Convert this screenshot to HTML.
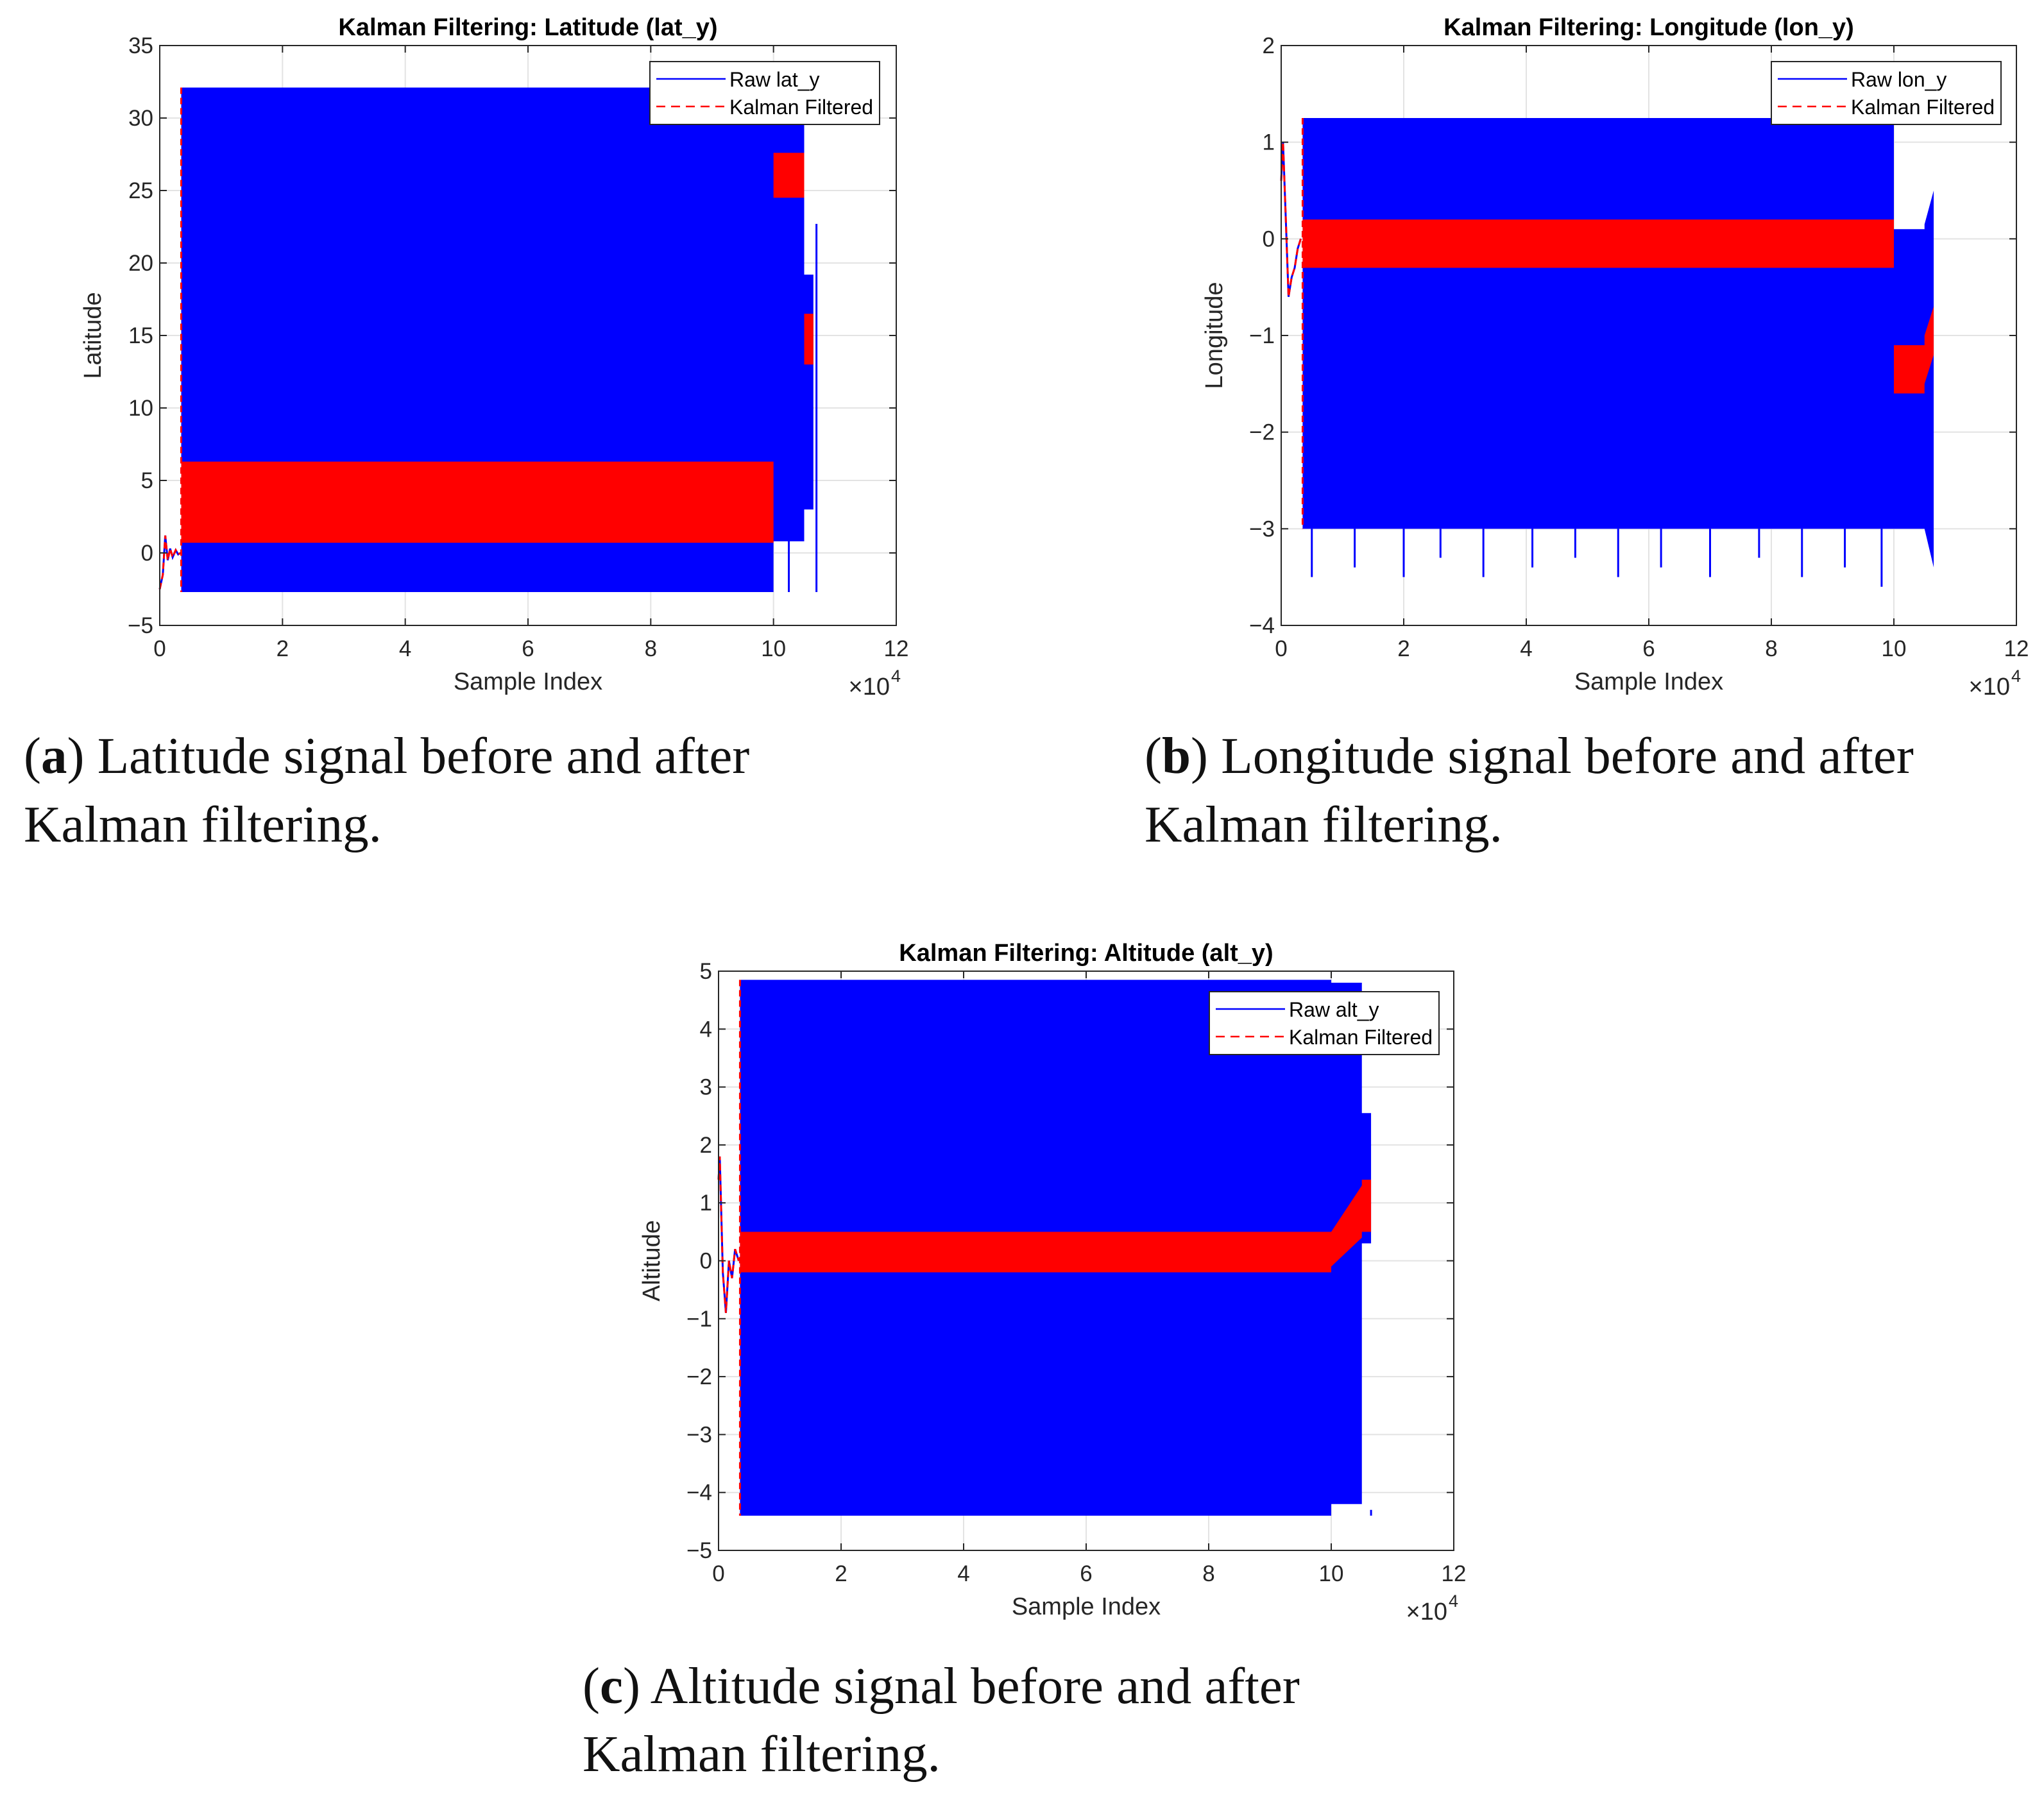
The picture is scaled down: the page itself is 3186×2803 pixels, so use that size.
<!DOCTYPE html>
<html><head><meta charset="utf-8"><style>
body{margin:0;background:#fff}
svg text{font-family:"Liberation Sans",Arial,sans-serif}
.cap{font-family:"Liberation Serif",serif;font-size:81px;fill:#111}
</style></head><body>
<svg id="root" xmlns="http://www.w3.org/2000/svg" width="3186" height="2798" viewBox="0 0 3186 2798">
<rect width="3186" height="2798" fill="#fff"/>
<text class="cap" x="37" y="1205">(<tspan font-weight="bold">a</tspan>) Latitude signal before and after</text>
<text class="cap" x="37" y="1312">Kalman filtering.</text>
<text class="cap" x="1784" y="1205">(<tspan font-weight="bold">b</tspan>) Longitude signal before and after</text>
<text class="cap" x="1784" y="1312">Kalman filtering.</text>
<text class="cap" x="908" y="2655">(<tspan font-weight="bold">c</tspan>) Altitude signal before and after</text>
<text class="cap" x="908" y="2761">Kalman filtering.</text>
</svg>
<script>
// ---- data: latitude ----
const latInitX=[0,500,900,1300,1700,2100,2600,3000,3400];
const latInitY=[-2.5,-1.5,1.2,-0.5,0.3,-0.3,0.2,-0.1,0];
const latRawX=[3500,100000,100000,105000,105000,106500];
const latRawHi=[32.1,32.1,30.5,30.5,19.2,19.2];
const latRawLo=[-2.7,-2.7,0.8,0.8,3.0,3.0];
const latKfX=[3500,100000,100000,105000,105000,106500];
const latKfHi=[6.3,6.3,27.6,27.6,16.5,16.5];
const latKfLo=[0.7,0.7,24.5,24.5,13.0,13.0];
const latSpikeX=[17000,107000,102500];
const latSpikeY=[27.8,22.7,8.3];
// ---- data: longitude ----
const lonInitX=[0,300,700,1200,1700,2200,2700,3200];
const lonInitY=[0.6,1.0,0.3,-0.6,-0.4,-0.3,-0.1,0];
const lonRawX=[3500,100000,100000,105000,105000,106500];
const lonRawHi=[1.25,1.25,0.1,0.1,0.15,0.5];
const lonRawLo=[-3.0,-3.0,-3.0,-3.0,-3.0,-3.4];
const lonKfX=[3500,100000,100000,105000,105000,106500];
const lonKfHi=[0.2,0.2,-1.1,-1.1,-1.0,-0.7];
const lonKfLo=[-0.3,-0.3,-1.6,-1.6,-1.5,-1.2];
const lonSpikeX=[5000,12000,20000,26000,33000,41000,48000,55000,62000,70000,78000,85000,92000,98000];
const lonSpikeY=[-3.5,-3.4,-3.5,-3.3,-3.5,-3.4,-3.3,-3.5,-3.4,-3.5,-3.3,-3.5,-3.4,-3.6];
// ---- data: altitude ----
const altInitX=[0,200,700,1200,1700,2200,2700,3300];
const altInitY=[1.4,1.8,-0.2,-0.9,0,-0.3,0.2,0];
const altRawX=[3500,100000,100000,105000,105000,106500];
const altRawHi=[4.85,4.85,4.8,4.8,2.55,2.55];
const altRawLo=[-4.4,-4.4,-4.2,-4.2,0.3,0.3];
const altKfX=[3500,100000,100000,105000,105000,106500];
const altKfHi=[0.5,0.5,0.5,1.3,1.4,1.4];
const altKfLo=[-0.2,-0.2,-0.1,0.4,0.5,0.5];
const altSpikeX=[106500,100000];
const altSpikeY=[-4.3,-4.4];

const xTicks=[0,2,4,6,8,10,12];
const latTicks=[-5,0,5,10,15,20,25,30,35];
const lonTicks=[-4,-3,-2,-1,0,1,2];
const altTicks=[-5,-4,-3,-2,-1,0,1,2,3,4,5];

const NS='http://www.w3.org/2000/svg';
const root=document.getElementById('root');
function mk(tag,attrs,parent,text){const e=document.createElementNS(NS,tag);for(const k in attrs)e.setAttribute(k,attrs[k]);if(text!==undefined)e.textContent=text;(parent||root).appendChild(e);return e;}
function fmt(v){return v<0?'\u2212'+(-v):''+v;}

function plot(cfg){
  const g=mk('g',{});
  
  
  const L=cfg.L,R=cfg.R,T=cfg.T,B=cfg.B;
  const sx=v=>L+(v/120000)*(R-L);
  const sy=v=>B-(v-cfg.ymin)/(cfg.ymax-cfg.ymin)*(B-T);
  xTicks.forEach(t=>{const x=sx(t*10000);const l=mk('line',{x1:x,x2:x,y1:T,y2:B,stroke:'#e3e3e3','stroke-width':2},g);
    });
  cfg.ticks.forEach(t=>{const y=sy(t);const l=mk('line',{x1:L,x2:R,y1:y,y2:y,stroke:'#e3e3e3','stroke-width':2},g);
    });
  const poly=(X,Hi,Lo,fill,nm)=>{let pts=X.map((x,i)=>sx(x)+','+sy(Hi[i]));for(let i=X.length-1;i>=0;i--)pts.push(sx(X[i])+','+sy(Lo[i]));
    const p=mk('polygon',{points:pts.join(' '),fill:fill},g);};
  poly(cfg.rawX,cfg.rawHi,cfg.rawLo,'#0000ff','raw-signal-band');
  cfg.spX.forEach((x,i)=>{const l=mk('line',{x1:sx(x),x2:sx(x),y1:sy(cfg.rawLo[0]),y2:sy(cfg.spY[i]),stroke:'#0000ff','stroke-width':3},g);
    });
  poly(cfg.kfX,cfg.kfHi,cfg.kfLo,'#ff0000','kalman-filtered-band');
  const tr=mk('line',{x1:sx(cfg.rawX[0]),x2:sx(cfg.rawX[0]),y1:sy(cfg.rawHi[0]),y2:sy(cfg.rawLo[0]),stroke:'#ff0000','stroke-width':3,'stroke-dasharray':'10,6'},g);
  
  const ip=cfg.iX.map((x,i)=>sx(x)+','+sy(cfg.iY[i])).join(' ');
  const l1=mk('polyline',{points:ip,fill:'none',stroke:'#0000ff','stroke-width':3},g);
  
  const l2=mk('polyline',{points:ip,fill:'none',stroke:'#ff0000','stroke-width':3,'stroke-dasharray':'10,6'},g);
  
  const bx=mk('rect',{x:L,y:T,width:R-L,height:B-T,fill:'none',stroke:'#262626','stroke-width':2},g);
  
  xTicks.forEach(t=>{const x=sx(t*10000);
    mk('line',{x1:x,x2:x,y1:B,y2:B-11,stroke:'#262626','stroke-width':2},g);
    mk('line',{x1:x,x2:x,y1:T,y2:T+11,stroke:'#262626','stroke-width':2},g);
    const tx=mk('text',{x:x,y:B+48,'text-anchor':'middle','font-size':35,fill:'#262626'},g,''+t);
    });
  cfg.ticks.forEach(t=>{const y=sy(t);
    mk('line',{x1:L,x2:L+11,y1:y,y2:y,stroke:'#262626','stroke-width':2},g);
    mk('line',{x1:R,x2:R-11,y1:y,y2:y,stroke:'#262626','stroke-width':2},g);
    const tx=mk('text',{x:L-10,y:y+12,'text-anchor':'end','font-size':35,fill:'#262626'},g,fmt(t));
    });
  const ti=mk('text',{x:(L+R)/2,y:T-16,'text-anchor':'middle','font-size':38,'font-weight':'bold',fill:'#000'},g,cfg.title);
  
  const xl=mk('text',{x:(L+R)/2,y:B+100,'text-anchor':'middle','font-size':38,fill:'#262626'},g,'Sample Index');
  
  const ex=mk('text',{x:R-10,y:B+108,'text-anchor':'end','font-size':38,fill:'#262626'},g,'\u00d710');
  
  const e4=mk('text',{x:R-8,y:B+88,'text-anchor':'start','font-size':27,fill:'#262626'},g,'4');
  
  const yx=L-92,yy=(T+B)/2;
  const yl=mk('text',{x:yx,y:yy,'text-anchor':'middle','font-size':38,fill:'#262626',transform:`rotate(-90 ${yx} ${yy})`},g,cfg.ylabel);
  
  const lg=mk('g',{},g);
  const lx=cfg.lx,ly=T+cfg.ly;
  mk('rect',{x:lx,y:ly,width:358,height:98,fill:'#fff',stroke:'#262626','stroke-width':2},lg);
  mk('line',{x1:lx+10,x2:lx+118,y1:ly+27,y2:ly+27,stroke:'#0000ff','stroke-width':2.5},lg);
  mk('line',{x1:lx+10,x2:lx+118,y1:ly+70,y2:ly+70,stroke:'#ff0000','stroke-width':2.5,'stroke-dasharray':'14,9'},lg);
  const t1=mk('text',{x:lx+124,y:ly+39,'font-size':32,fill:'#000'},lg,cfg.rawLabel);
  
  const t2=mk('text',{x:lx+124,y:ly+82,'font-size':32,fill:'#000'},lg,'Kalman Filtered');
  
}
plot({name:'latitude-chart',L:249,R:1397,T:71,B:975,ymin:-5,ymax:35,ticks:latTicks,title:'Kalman Filtering: Latitude (lat_y)',ylabel:'Latitude',rawLabel:'Raw lat_y',
  iX:latInitX,iY:latInitY,rawX:latRawX,rawHi:latRawHi,rawLo:latRawLo,kfX:latKfX,kfHi:latKfHi,kfLo:latKfLo,spX:latSpikeX,spY:latSpikeY,lx:1013,ly:25});
plot({name:'longitude-chart',L:1997,R:3143,T:71,B:975,ymin:-4,ymax:2,ticks:lonTicks,title:'Kalman Filtering: Longitude (lon_y)',ylabel:'Longitude',rawLabel:'Raw lon_y',
  iX:lonInitX,iY:lonInitY,rawX:lonRawX,rawHi:lonRawHi,rawLo:lonRawLo,kfX:lonKfX,kfHi:lonKfHi,kfLo:lonKfLo,spX:lonSpikeX,spY:lonSpikeY,lx:2761,ly:25});
plot({name:'altitude-chart',L:1120,R:2266,T:1514,B:2417,ymin:-5,ymax:5,ticks:altTicks,title:'Kalman Filtering: Altitude (alt_y)',ylabel:'Altitude',rawLabel:'Raw alt_y',
  iX:altInitX,iY:altInitY,rawX:altRawX,rawHi:altRawHi,rawLo:altRawLo,kfX:altKfX,kfHi:altKfHi,kfLo:altKfLo,spX:altSpikeX,spY:altSpikeY,lx:1885,ly:32});
</script>
</body></html>
